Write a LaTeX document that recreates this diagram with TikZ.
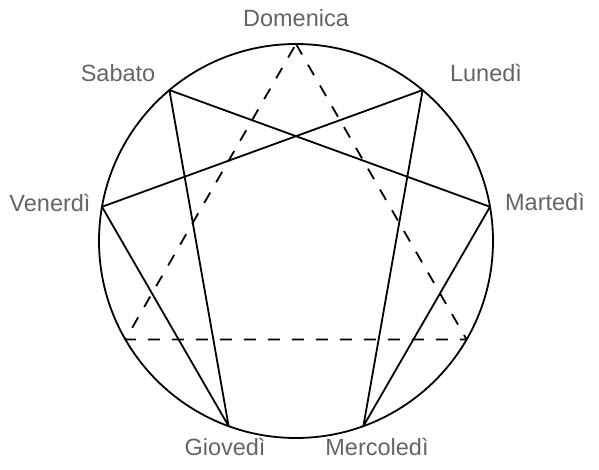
\documentclass[tikz,border=0pt]{standalone}
\usepackage{fontspec}
\setmainfont{Liberation Sans}
\usepackage{xcolor}
\definecolor{daygray}{RGB}{100,100,100}
\tikzset{day/.style={color=daygray, anchor=base, font=\fontsize{23.5}{27}\selectfont}}

\begin{document}
\begin{tikzpicture}[x=1pt, y=-1pt, line width=1.8pt, line join=round]
	\useasboundingbox (0,0) rectangle (599,470);
	\node[draw, circle, minimum size=394pt, inner sep=0pt, outer sep=0pt] (ring) at (296,241) {};
	\foreach \n/\a in {p9/90, p1/50, p2/10, p3/-30, p4/-70, p5/-110, p6/-150, p7/170, p8/130}
		\coordinate (\n) at (ring.\a);
	\draw (p1) -- (p4) -- (p2) -- (p8) -- (p5) -- (p7) -- cycle;
	\draw[dash pattern=on 12pt off 12pt] (p9) -- (p3) -- (p6) -- cycle;
	\node[day] (sun) at (296,27) {Domenica};
	\node[day] (mon) at (486,82) {Lunedì};
	\node[day] (tue) at (545,211) {Martedì};
	\node[day] (wed) at (377,455) {Mercoledì};
	\node[day] (thu) at (225,455) {Giovedì};
	\node[day] (fri) at (50,212) {Venerdì};
	\node[day] (sat) at (118,82) {Sabato};
\end{tikzpicture}
\end{document}
